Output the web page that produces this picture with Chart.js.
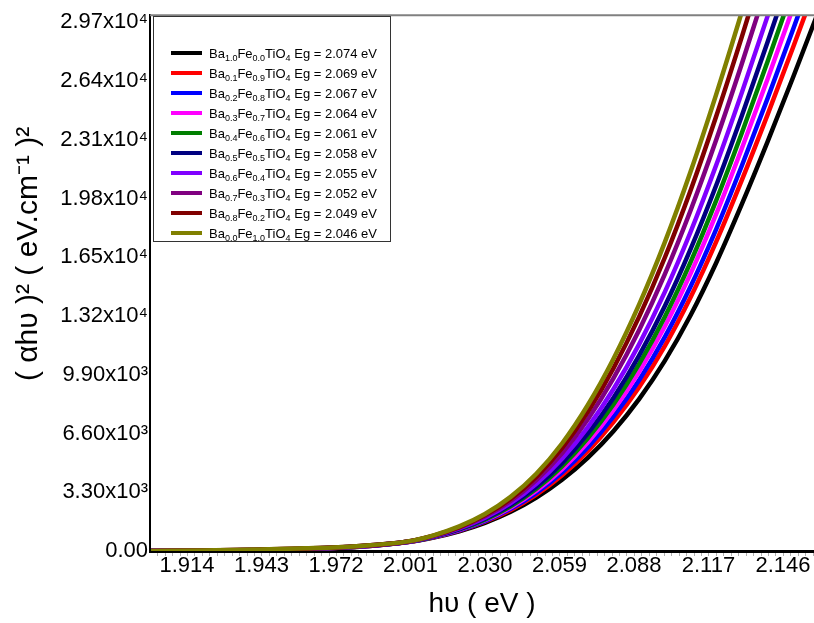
<!DOCTYPE html>
<html><head><meta charset="utf-8">
<script src="https://cdn.jsdelivr.net/npm/chart.js@4.4.1/dist/chart.umd.min.js"></script>
<style>
html,body{margin:0;padding:0;background:#fff;}
#wrap{position:relative;width:814px;height:623px;overflow:hidden;}
canvas{position:absolute;left:0;top:0;}
#legend{position:absolute;left:153px;top:16px;width:236px;height:224px;border:1px solid #333;background:#fff;font-family:"Liberation Sans",Arial,sans-serif;font-size:13px;color:#000;}
.row{position:absolute;left:0;height:20px;display:flex;align-items:center;white-space:nowrap;}
.sw{width:31px;height:4px;margin-left:17px;margin-right:7px;flex:none;}
sub{font-size:9px;vertical-align:-3px;line-height:0;}
</style></head>
<body><div id="wrap"><canvas id="c" width="814" height="623"></canvas><div id="legend"></div></div>
<script>
// photon energy (eV)
const hv = [1.90,1.92,1.94,1.96,1.98,2.00,2.01,2.02,2.03,2.04,2.05,2.06,2.07,2.08,2.09,2.10,2.11,2.12,2.13,2.14,2.15,2.16];
// (alpha h nu)^2 for each composition
const ba10 = [0,10,40,100,230,500,760,1110,1580,2200,3000,4000,5230,6730,8530,10680,13230,16180,19480,22980,26630,30380];
const ba01 = [0,13,45,106,235,505,775,1144,1643,2305,3168,4255,5600,7238,9194,11513,14238,17363,20831,24500,28313,32219];
const ba02 = [0,14,48,110,238,508,784,1164,1680,2368,3268,4408,5822,7542,9592,12012,14842,18072,21642,25412,29322,33322];
const ba03 = [0,16,52,115,242,512,795,1188,1725,2444,3389,4592,6088,7907,10070,12611,15567,18923,22615,26506,30533,34646];
const ba04 = [0,17,55,119,245,515,804,1210,1765,2511,3496,4755,6325,8232,10495,13144,16212,19680,23480,27479,31610,35823];
const ba05 = [0,19,58,123,248,518,815,1234,1810,2586,3616,4938,6592,8598,10973,13744,16938,20532,24453,28574,32822,37147];
const ba06 = [0,22,63,129,253,523,830,1267,1870,2687,3777,5183,6947,9085,11610,14543,17905,21667,25750,30033,34437,38912];
const ba07 = [0,25,69,137,259,529,848,1307,1945,2813,3978,5489,7391,9694,12406,15542,19114,23086,27371,31857,36456,41118];
const ba08 = [0,27,75,144,265,535,864,1345,2015,2931,4166,5775,7805,10262,13150,16474,20242,24410,28885,33559,38340,43178];
const ba00 = [0,30,80,150,270,540,880,1380,2080,3040,4340,6040,8190,10790,13840,17340,21290,25640,30290,35140,40090,45090];
const seriesValues = [ba10, ba01, ba02, ba03, ba04, ba05, ba06, ba07, ba08, ba00];
// legend text parts
const baSub = ['1.0','0.1','0.2','0.3','0.4','0.5','0.6','0.7','0.8','0.0'];
const feSub = ['0.0','0.9','0.8','0.7','0.6','0.5','0.4','0.3','0.2','1.0'];
const egValues = ['2.074','2.069','2.067','2.064','2.061','2.058','2.055','2.052','2.049','2.046'];
// tick values
const xTicks = [1.914,1.943,1.972,2.001,2.030,2.059,2.088,2.117,2.146];
const yTicks = [0,3300,6600,9900,13200,16500,19800,23100,26400,29700];

const colors = ['#000000','#ff0000','#0000ff','#ff00ff','#008000','#000080','#8000ff','#800080','#800000','#808000'];
const FONT = "'Liberation Sans', Arial, sans-serif";

function yLabel(v){
  if (v === 0) return '0.00';
  const e = v >= 10000 ? 4 : 3;
  return (v / Math.pow(10, e)).toFixed(2) + 'x10' + (e === 4 ? '\u2074' : '\u00B3');
}

const datasets = seriesValues.map((vals, i) => ({
  label: 'Ba' + baSub[i] + 'Fe' + feSub[i] + 'TiO4 Eg = ' + egValues[i] + ' eV',
  data: hv.map((x, j) => ({x: x, y: vals[j]})),
  borderColor: colors[i],
  backgroundColor: colors[i],
  borderWidth: 4.5,
  pointRadius: 0,
  cubicInterpolationMode: 'monotone',
  order: seriesValues.length - 1 - i
}));

const frame = {
  id: 'frame',
  afterDraw(chart){
    const {ctx, chartArea: a, scales: {x}} = chart;
    ctx.save();
    ctx.strokeStyle = '#808080';
    ctx.lineWidth = 2;
    ctx.beginPath(); ctx.moveTo(a.left, a.top); ctx.lineTo(a.right, a.top); ctx.stroke();
    ctx.strokeStyle = '#b0b0b0';
    ctx.lineWidth = 1;
    for (let k = -6; k <= 90; k++) {
      const v = xTicks[0] + k * 0.0029;
      if (v < x.min || v > x.max) continue;
      const px = Math.round(x.getPixelForValue(v)) + 0.5;
      ctx.beginPath(); ctx.moveTo(px, a.bottom + 2); ctx.lineTo(px, a.bottom + 5); ctx.stroke();
    }
    ctx.restore();
  }
};

new Chart(document.getElementById('c'), {
  type: 'line',
  data: { datasets },
  options: {
    responsive: false,
    animation: false,
    layout: { padding: { top: 10, right: 0, left: 0, bottom: 0 } },
    plugins: { legend: { display: false }, tooltip: { enabled: false } },
    scales: {
      x: {
        type: 'linear', min: 1.8996, max: 2.1581,
        afterBuildTicks: s => { s.ticks = xTicks.map(v => ({value: v})); },
        afterFit: s => { s.height = 72; },
        ticks: { callback: v => Number(v).toFixed(3), color: '#000', font: { family: FONT, size: 22 }, padding: 2, maxRotation: 0, autoSkip: false },
        grid: { display: false, drawTicks: false },
        border: { display: true, color: '#000', width: 3 },
        title: { display: true, text: 'h\u03C5 ( eV )', color: '#000', font: { family: FONT, size: 28 }, padding: { top: 0, bottom: 2 } }
      },
      y: {
        type: 'linear', min: 0, max: 30100,
        afterBuildTicks: s => { s.ticks = yTicks.map(v => ({value: v})); },
        afterFit: s => { s.width = 150; },
        ticks: { callback: v => yLabel(v), color: '#000', font: { family: FONT, size: 22 }, padding: 2, autoSkip: false },
        grid: { display: false, drawTicks: false },
        border: { display: true, color: '#000', width: 2 },
        title: { display: true, text: '       ( \u03B1h\u03C5 )\u00B2 ( eV.cm\u207B\u00B9 )\u00B2', color: '#000', font: { family: FONT, size: 30 }, padding: { top: 11, bottom: 0 } }
      }
    }
  },
  plugins: [frame]
});

// legend with subscripts
const leg = document.getElementById('legend');
seriesValues.forEach((_, i) => {
  const row = document.createElement('div');
  row.className = 'row';
  row.style.top = (26 + 20 * i) + 'px';
  const sw = document.createElement('span');
  sw.className = 'sw';
  sw.style.background = colors[i];
  row.appendChild(sw);
  const t = document.createElement('span');
  const add = (txt, sub) => { const el = document.createElement(sub ? 'sub' : 'span'); el.textContent = txt; t.appendChild(el); };
  add('Ba'); add(baSub[i], true); add('Fe'); add(feSub[i], true); add('TiO'); add('4', true);
  add(' Eg = ' + egValues[i] + ' eV');
  row.appendChild(t);
  leg.appendChild(row);
});
</script></body></html>
